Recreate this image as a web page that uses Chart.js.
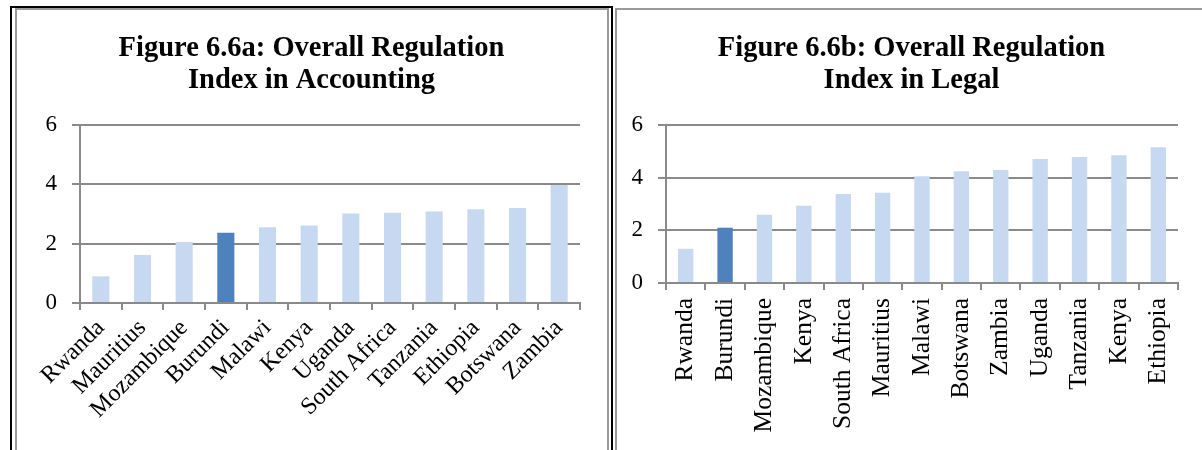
<!DOCTYPE html>
<html>
<head>
<meta charset="utf-8">
<script src="https://cdn.jsdelivr.net/npm/chart.js@4"></script>
<style>
  html, body { margin: 0; padding: 0; background: #fff; }
  body { width: 1202px; height: 450px; position: relative; overflow: hidden; }
  .frame { position: absolute; box-sizing: border-box; }
  #outerA { left: 10px; top: 6px; width: 603px; height: 460px; border: 2px solid #000; border-bottom: none; }
  #panelA { left: 15px; top: 8px; width: 594px; height: 460px; border: 2px solid #9a9a9a; border-bottom: none; }
  #panelB { left: 615px; top: 8px; width: 600px; height: 460px; border: 2px solid #9a9a9a; border-bottom: none; }
  canvas { position: absolute; }
  #chartA { left: 15px; top: 8px; }
  #chartB { left: 615px; top: 8px; }
</style>
</head>
<body>
<div class="frame" id="outerA"></div>
<div class="frame" id="panelA"></div>
<div class="frame" id="panelB"></div>
<canvas id="chartA" width="593" height="442"></canvas>
<canvas id="chartB" width="593" height="442"></canvas>
<script>
// ── Data ───────────────────────────────────
var accCountries = ['Rwanda', 'Mauritius', 'Mozambique', 'Burundi', 'Malawi', 'Kenya',
                    'Uganda', 'South Africa', 'Tanzania', 'Ethiopia', 'Botswana', 'Zambia'];
var accValues    = [0.90, 1.62, 2.06, 2.37, 2.55, 2.61, 3.02, 3.04, 3.08, 3.16, 3.20, 3.98];

var legCountries = ['Rwanda', 'Burundi', 'Mozambique', 'Kenya', 'South Africa', 'Mauritius',
                    'Malawi', 'Botswana', 'Zambia', 'Uganda', 'Tanzania', 'Kenya', 'Ethiopia'];
var legValues    = [1.30, 2.10, 2.59, 2.93, 3.38, 3.43, 4.05, 4.24, 4.29, 4.71, 4.78, 4.85, 5.15];

var yMin = 0, yMax = 6, yStep = 2;
var highlight = 'Burundi';

var titleA = ['Figure 6.6a: Overall Regulation', 'Index in Accounting'];
var titleB = ['Figure 6.6b: Overall Regulation', 'Index in Legal'];

// ── Style ──────────────────────────────────
var LIGHT = '#C6D9F1';
var DARK  = '#4F81BD';
var GRID  = '#8a8a8a';
var SERIF = "'Liberation Serif', 'Times New Roman', serif";

function barColors(labels) {
  return labels.map(function(l) { return l === highlight ? DARK : LIGHT; });
}

function makeChart(id, labels, values, title, opt) {
  var ctx = document.getElementById(id);
  return new Chart(ctx, {
    type: 'bar',
    data: {
      labels: labels,
      datasets: [{
        data: values,
        yAxisID: 'y',
        backgroundColor: barColors(labels),
        borderWidth: 0,
        categoryPercentage: 1,
        barPercentage: opt.barPct
      }]
    },
    options: {
      responsive: false,
      animation: false,
      devicePixelRatio: 1,
      layout: { padding: 0 },
      plugins: {
        legend: { display: false },
        tooltip: { enabled: false },
        title: {
          display: true,
          text: title,
          color: '#000',
          font: { family: SERIF, size: 28.5, weight: 'bold', lineHeight: 1.14 },
          padding: { top: 24, bottom: 28 }
        }
      },
      scales: {
        x: {
          grid: { display: true, drawOnChartArea: false, drawTicks: true, tickLength: 7,
                  color: GRID, lineWidth: 2, offset: true },
          border: { display: true, color: GRID, width: 2 },
          ticks: { color: '#000', font: { family: SERIF, size: opt.xFont },
                   minRotation: opt.rot, maxRotation: opt.rot, autoSkip: false, padding: opt.xPad },
          afterFit: function(s) { s.height = opt.xHeight; }
        },
        y: {
          position: 'left',
          min: yMin, max: yMax,
          grid: { color: GRID, lineWidth: 2, tickLength: 8, drawTicks: true },
          border: { display: true, color: GRID, width: 2 },
          ticks: { stepSize: yStep, color: '#000', font: { family: SERIF, size: 23 }, padding: 15 },
          afterFit: function(s) { s.width = opt.yWidth; }
        },
        // empty right-hand spacer so the title stays centred on the whole panel
        yR: {
          position: 'right',
          display: true,
          grid: { display: false },
          border: { display: false },
          ticks: { display: false },
          afterFit: function(s) { s.width = opt.rightGap; }
        }
      }
    }
  });
}

makeChart('chartA', accCountries, accValues, titleA,
  { barPct: 0.41, rot: 45, xFont: 24, xPad: 4, yWidth: 65, rightGap: 28, xHeight: 147 });
makeChart('chartB', legCountries, legValues, titleB,
  { barPct: 0.39, rot: 90, xFont: 25.5, xPad: 8, yWidth: 51, rightGap: 30, xHeight: 167 });
</script>
</body>
</html>
